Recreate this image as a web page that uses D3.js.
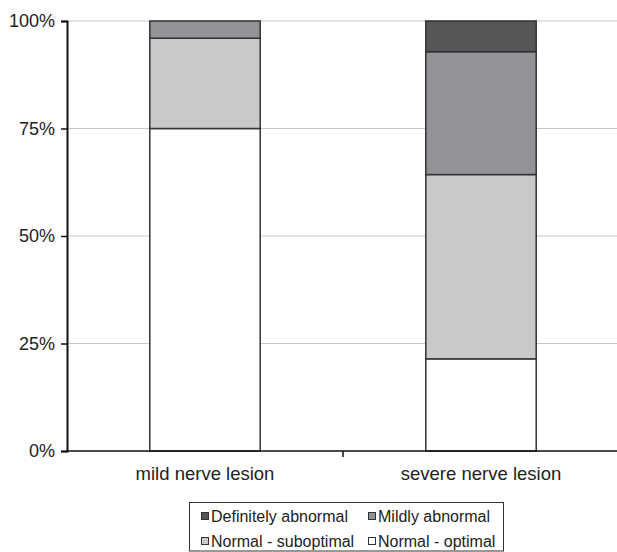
<!DOCTYPE html>
<html><head><meta charset="utf-8">
<script src="https://cdn.jsdelivr.net/npm/d3@7"></script>
<style>body{margin:0;background:#fff}svg{display:block;font-family:"Liberation Sans",Arial,sans-serif}</style>
</head><body><svg id="c" width="617" height="552"></svg>
<script>
const categories = ["mild nerve lesion", "severe nerve lesion"];
const seriesNames = ["Normal - optimal", "Normal - suboptimal", "Mildly abnormal", "Definitely abnormal"];
const optimal = [75, 21.43];
const suboptimal = [21, 42.86];
const mildly = [4, 28.57];
const definitely = [0, 7.14];
const yTicks = [0, 25, 50, 75, 100];
const colors = ["#ffffff", "#c8c9cb", "#929396", "#555658"];

(function () {
const svg = d3.select("#c");
const mL = 67, mR = 619, mT = 21, mB = 451;
const x = d3.scaleBand().domain(categories).range([mL, mR]).paddingInner(0).paddingOuter(0);
const y = d3.scaleLinear().domain([0, 100]).range([mB, mT]);

const rows = categories.map((c, i) => ({cat: c, "Normal - optimal": optimal[i], "Normal - suboptimal": suboptimal[i], "Mildly abnormal": mildly[i], "Definitely abnormal": definitely[i]}));
const stacked = d3.stack().keys(seriesNames)(rows);

svg.append("g").selectAll("line").data(yTicks.filter(d => d > 0)).join("line")
  .attr("x1", mL).attr("x2", 617).attr("y1", d => y(d)).attr("y2", d => y(d))
  .attr("stroke", "#c8c8c8").attr("stroke-width", 1);

const bw = x.bandwidth() * 0.4;
svg.append("g").selectAll("g").data(stacked).join("g")
  .attr("fill", (d, i) => colors[i])
  .selectAll("rect").data(d => d.filter(s => s[1] - s[0] > 0)).join("rect")
  .attr("x", d => x(d.data.cat) + (x.bandwidth() - bw) / 2)
  .attr("width", bw)
  .attr("y", d => y(d[1]))
  .attr("height", d => y(d[0]) - y(d[1]))
  .attr("stroke", "#333").attr("stroke-width", 1.5);

const ya = svg.append("g").attr("transform", `translate(${mL},0)`)
  .call(d3.axisLeft(y).tickValues(yTicks).tickFormat(d => d + "%").tickSize(6).tickPadding(6));
ya.select(".domain").attr("stroke", "#111").attr("stroke-width", 2);
ya.selectAll(".tick line").attr("stroke", "#111").attr("stroke-width", 1.5);
ya.selectAll("text").attr("font-size", 18).attr("fill", "#222").attr("font-family", "Liberation Sans, Arial, sans-serif");

const xa = svg.append("g").attr("transform", `translate(0,${mB})`)
  .call(d3.axisBottom(x).tickSize(0).tickPadding(16));
xa.select(".domain").attr("stroke", "#111").attr("stroke-width", 1.5).attr("d", `M${mL},0H617`);
xa.selectAll("text").attr("font-size", 18.5).attr("fill", "#222").attr("font-family", "Liberation Sans, Arial, sans-serif");
svg.append("line").attr("x1", x(categories[1])).attr("x2", x(categories[1]))
  .attr("y1", mB).attr("y2", mB + 6).attr("stroke", "#111").attr("stroke-width", 1.5);

const lg = svg.append("g");
lg.append("rect").attr("x", 189.5).attr("y", 502.5).attr("width", 314).attr("height", 48.5)
  .attr("fill", "#fff").attr("stroke", "#333").attr("stroke-width", 1);
const legendOrder = ["Definitely abnormal", "Mildly abnormal", "Normal - suboptimal", "Normal - optimal"];
const lpos = [[201, 522], [368, 522], [201, 547], [368, 547]];
legendOrder.forEach((name, i) => {
  const [lx, ly] = lpos[i];
  lg.append("rect").attr("x", lx + 0.5).attr("y", ly - 9.5).attr("width", 7).attr("height", 7)
    .attr("fill", colors[seriesNames.indexOf(name)]).attr("stroke", "#333").attr("stroke-width", 1);
  lg.append("text").attr("x", lx + 10).attr("y", ly)
    .attr("font-size", 16).attr("fill", "#222").text(name);
});
})();
</script></body></html>
